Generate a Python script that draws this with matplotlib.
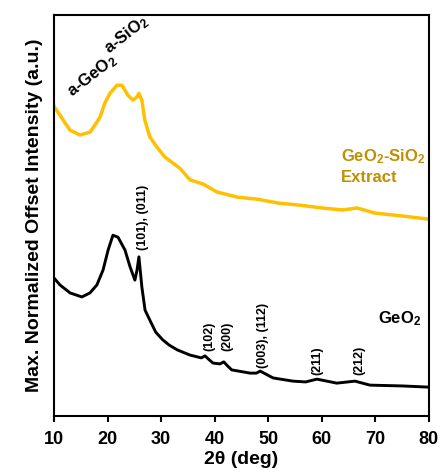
import matplotlib
matplotlib.use('Agg')
import matplotlib.pyplot as plt

plt.rcParams['font.family'] = ['Liberation Sans', 'DejaVu Sans']
plt.rcParams['font.weight'] = 'bold'
plt.rcParams['mathtext.fontset'] = 'custom'
plt.rcParams['mathtext.rm'] = 'Liberation Sans:bold'
plt.rcParams['mathtext.it'] = 'Liberation Sans:bold'
plt.rcParams['mathtext.bf'] = 'Liberation Sans:bold'

# GeO2-SiO2 extract (offset trace)
ext_2theta = [10.0, 10.2, 11.1, 12.05, 13.0, 14.85, 16.7, 17.65, 18.6, 19.5,
              20.45, 21.75, 22.7, 23.8, 24.75, 25.5, 25.85, 26.4, 26.95, 27.9,
              29.2, 30.7, 32.2, 33.5, 35.4, 37.8, 40.4, 44.2, 47.9, 52.0, 55.9,
              60.0, 63.9, 66.6, 70.0, 75.0, 80.0]
ext_int = [77.3, 76.8, 75.1, 73.1, 71.3, 70.1, 70.8, 72.6, 74.6, 78.1,
           80.5, 82.5, 82.5, 80.0, 78.8, 79.6, 80.5, 78.8, 73.8, 69.6,
           67.1, 64.6, 63.1, 61.8, 58.9, 57.9, 55.9, 54.6, 54.1, 53.1, 52.6,
           51.9, 51.4, 51.9, 50.6, 49.9, 49.1]

# GeO2 reference trace
geo_2theta = [10.0, 11.1, 13.0, 15.2, 16.7, 18.0, 19.15, 20.1, 21.0, 21.95,
              23.25, 24.2, 25.1, 25.5, 25.85, 26.4, 27.0, 27.9, 29.0, 30.3,
              31.5, 33.0, 35.4, 37.5, 38.2, 39.0, 39.7, 41.0, 41.7, 42.4, 43.2,
              46.6, 47.8, 48.5, 50.9, 54.6, 57.0, 59.1, 62.8, 66.2, 69.0, 75.0,
              80.0]
geo_int = [34.4, 32.7, 30.7, 29.7, 30.7, 32.7, 36.4, 41.4, 45.1, 44.6,
           41.4, 37.2, 33.9, 36.4, 39.7, 32.2, 26.4, 23.9, 20.9, 19.0,
           17.7, 16.5, 15.2, 14.5, 15.0, 14.0, 13.2, 13.0, 13.5, 12.5, 11.5,
           10.7, 10.7, 11.2, 9.5, 8.7, 8.5, 9.2, 8.2, 8.7, 7.7, 7.5,
           7.2]

peak_labels = ['(101), (011)', '(102)', '(200)', '(003), (112)', '(211)', '(212)']
peak_x = [26.6, 39.1, 42.3, 49.0, 59.1, 67.1]
peak_y = [41.4, 16.2, 16.2, 12.0, 10.2, 10.2]

fig = plt.figure(figsize=(4.43, 4.73), dpi=100)
ax = fig.add_axes([0.122, 0.1205, 0.846, 0.8475])

ax.plot(ext_2theta, ext_int, color='#FFC000', lw=2.5)
ax.plot(geo_2theta, geo_int, color='black', lw=2.1)

for lab, px, py in zip(peak_labels, peak_x, peak_y):
    ax.text(px, py, lab, rotation=90, ha='center', va='bottom', fontsize=9,
            fontweight='bold')

ax.text(17.1, 85.0, r'a-GeO$_2$', rotation=38, ha='center', va='center',
        fontsize=12)
ax.text(23.6, 95.0, r'a-SiO$_2$', rotation=38, ha='center', va='center',
        fontsize=12)
ax.text(63.6, 62.3, 'GeO$_2$-SiO$_2$\nExtract', color='#C09000', ha='left',
        va='center', fontsize=12, linespacing=1.35)
ax.text(70.5, 24.4, r'GeO$_2$', ha='left', va='center', fontsize=12)

ax.set_xlim(10, 80)
ax.set_ylim(0, 100)
ax.set_xticks(range(10, 81, 10))
ax.set_yticks([])
ax.tick_params(axis='x', direction='out', length=4, width=1.5, labelsize=13,
               pad=7)
for sp in ax.spines.values():
    sp.set_linewidth(1.5)

ax.set_xlabel('2θ (deg)', fontsize=14, fontweight='bold', labelpad=2)
ax.set_ylabel('Max. Normalized Offset Intensity (a.u.)', fontsize=14,
              fontweight='bold', labelpad=8)

fig.savefig('out.png', dpi=100)
